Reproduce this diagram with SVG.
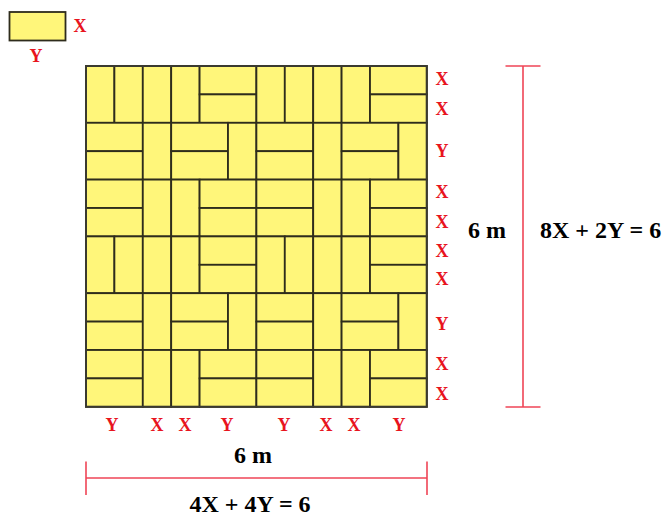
<svg xmlns="http://www.w3.org/2000/svg" xmlns:xlink="http://www.w3.org/1999/xlink" width="668" height="517" viewBox="0 0 668 517">
<style>
.t{fill:#fff67a;stroke:#2e2c1c;stroke-width:1.8}
.lbl{font-family:"Liberation Serif","Times New Roman",serif;font-weight:bold;font-size:18px;fill:#e8141e;text-anchor:middle}
.big{font-family:"Liberation Serif","Times New Roman",serif;font-weight:bold;font-size:24px;fill:#000}
.dim{stroke:#ef4456;stroke-width:1.6;fill:none}
</style>
<defs>
<g id="block">
<rect class="t" x="0" y="0" width="28.4" height="56.8"/>
<rect class="t" x="28.4" y="0" width="28.4" height="56.8"/>
<rect class="t" x="56.8" y="0" width="28.4" height="56.8"/>
<rect class="t" x="85.2" y="0" width="28.4" height="56.8"/>
<rect class="t" x="113.6" y="0" width="56.8" height="28.4"/>
<rect class="t" x="113.6" y="28.4" width="56.8" height="28.4"/>
<rect class="t" x="0" y="56.8" width="56.8" height="28.4"/>
<rect class="t" x="0" y="85.2" width="56.8" height="28.4"/>
<rect class="t" x="56.8" y="56.8" width="28.4" height="56.8"/>
<rect class="t" x="85.2" y="56.8" width="56.8" height="28.4"/>
<rect class="t" x="85.2" y="85.2" width="56.8" height="28.4"/>
<rect class="t" x="142" y="56.8" width="28.4" height="56.8"/>
<rect class="t" x="0" y="113.6" width="56.8" height="28.4"/>
<rect class="t" x="0" y="142" width="56.8" height="28.4"/>
<rect class="t" x="56.8" y="113.6" width="28.4" height="56.8"/>
<rect class="t" x="85.2" y="113.6" width="28.4" height="56.8"/>
<rect class="t" x="113.6" y="113.6" width="56.8" height="28.4"/>
<rect class="t" x="113.6" y="142" width="56.8" height="28.4"/>
</g>
</defs>

<g id="legend">
<rect class="t" x="9.5" y="12" width="56" height="28.5"/>
<text class="lbl" x="80" y="32">X</text>
<text class="lbl" x="36" y="61.5">Y</text>
</g>

<g id="floor">
<use xlink:href="#block" href="#block" x="86" y="66"/>
<use xlink:href="#block" href="#block" x="256.4" y="66"/>
<use xlink:href="#block" href="#block" x="86" y="236.4"/>
<use xlink:href="#block" href="#block" x="256.4" y="236.4"/>
<rect x="86" y="66" width="340.8" height="340.8" fill="none" stroke="#3a3a30" stroke-width="2"/>
</g>

<g id="right-labels">
<text class="lbl" x="442" y="85">X</text>
<text class="lbl" x="442" y="115">X</text>
<text class="lbl" x="442" y="157">Y</text>
<text class="lbl" x="442" y="198">X</text>
<text class="lbl" x="442" y="228">X</text>
<text class="lbl" x="442" y="257">X</text>
<text class="lbl" x="442" y="285">X</text>
<text class="lbl" x="442" y="330">Y</text>
<text class="lbl" x="442" y="370">X</text>
<text class="lbl" x="442" y="400">X</text>
</g>

<g id="bottom-labels">
<text class="lbl" x="112" y="431">Y</text>
<text class="lbl" x="157" y="431">X</text>
<text class="lbl" x="185" y="431">X</text>
<text class="lbl" x="227" y="431">Y</text>
<text class="lbl" x="284" y="431">Y</text>
<text class="lbl" x="326" y="431">X</text>
<text class="lbl" x="354" y="431">X</text>
<text class="lbl" x="399" y="431">Y</text>
</g>

<g id="dimensions">
<line class="dim" x1="523" y1="66" x2="523" y2="407"/>
<line class="dim" x1="505.5" y1="66" x2="540.5" y2="66"/>
<line class="dim" x1="505.5" y1="407" x2="540.5" y2="407"/>
<line class="dim" x1="86" y1="478" x2="427" y2="478"/>
<line class="dim" x1="86" y1="461.5" x2="86" y2="495"/>
<line class="dim" x1="427" y1="461.5" x2="427" y2="495"/>
</g>

<g id="dim-text">
<text class="big" x="487" y="238" text-anchor="middle">6 m</text>
<text class="big" x="540" y="238">8X + 2Y = 6</text>
<text class="big" x="253" y="463" text-anchor="middle">6 m</text>
<text class="big" x="250" y="512" text-anchor="middle">4X + 4Y = 6</text>
</g>
</svg>
